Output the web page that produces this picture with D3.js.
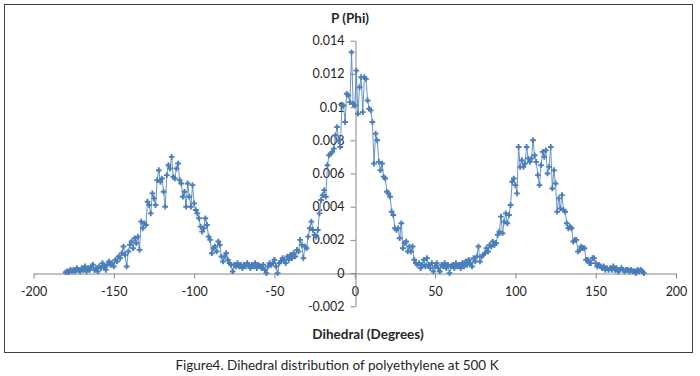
<!doctype html>
<html lang="en">
<head>
<meta charset="utf-8">
<title>Dihedral distribution</title>
<script src="https://d3js.org/d3.v7.min.js"></script>
<style>
  body { margin: 0; background: white; }
  svg text { font-family: Lato, "Liberation Sans", sans-serif; fill: #262626; }
</style>
</head>
<body>
<svg id="svg" width="700" height="376"></svg>
<script>
// dihedral angle, degrees (1 degree steps)
let angles = d3.range(-180, 181, 1);

// P(phi) for each angle, -180 .. 180
let probability = [
  0.00005, 0.0001, 0.00005, 0.0002, 0.0001, 0.0002, 0.0001, 0.0003, 0.0002, 0.0001,   // -180
  0.0003, 0.0002, 0.0004, 0.0001, 0.0003, 0.0002, 0.0004, 0.0005, 0.0002, 0.0003,    // -170
  0.0001, 0.0004, 0.0003, 0.0006, 0.0004, 0.0002, 0.0005, 0.0007, 0.0005, 0.0006,    // -160
  0.0004, 0.0008, 0.0007, 0.0010, 0.0009, 0.0012, 0.0016, 0.0011, 0.0004, 0.0013,    // -150
  0.0017, 0.0019, 0.0015, 0.0021, 0.0018, 0.0022, 0.0014, 0.0031, 0.0027, 0.0030,    // -140
  0.0029, 0.0043, 0.0041, 0.0036, 0.0048, 0.0045, 0.0041, 0.0056, 0.0062, 0.0055,    // -130
  0.0057, 0.0049, 0.0040, 0.0059, 0.0065, 0.0063, 0.0070, 0.0058, 0.0057, 0.0063,    // -120
  0.0066, 0.0056, 0.0054, 0.0046, 0.0049, 0.0040, 0.0054, 0.0046, 0.0040, 0.0053,    // -110
  0.0042, 0.0038, 0.0036, 0.0033, 0.0028, 0.0025, 0.0027, 0.0033, 0.0029, 0.0022,    // -100
  0.0020, 0.0012, 0.0015, 0.0016, 0.0013, 0.0019, 0.0017, 0.0010, 0.0007, 0.0010,    // -90
  0.0012, 0.0008, 0.0006, 0.0005, 0.0001, 0.0005, 0.0004, 0.0006, 0.0004, 0.0005,    // -80
  0.0003, 0.0005, 0.0004, 0.0006, 0.0005, 0.0003, 0.0005, 0.0004, 0.0006, 0.0003,    // -70
  0.0005, 0.0004, 0.0003, 0.0005, 0.0002, 0.0000, 0.0004, 0.0006, 0.0005, 0.0006,    // -60
  0.0008, 0.0004, 0.0000, 0.0006, 0.0007, 0.0009, 0.0008, 0.0006, 0.0010, 0.0008,    // -50
  0.0011, 0.0009, 0.0012, 0.0010, 0.0014, 0.0013, 0.0020, 0.0017, 0.0009, 0.0016,    // -40
  0.0015, 0.0022, 0.0027, 0.0031, 0.0026, 0.0023, 0.0022, 0.0026, 0.0036, 0.0044,    // -30
  0.0047, 0.0050, 0.0046, 0.0065, 0.0071, 0.0072, 0.0073, 0.0075, 0.0083, 0.0088,    // -20
  0.0080, 0.0076, 0.0101, 0.0101, 0.0091, 0.0108, 0.0107, 0.0103, 0.0133, 0.0102,    // -10
  0.0101, 0.0122, 0.0096, 0.0112, 0.0118, 0.0097, 0.0118, 0.0117, 0.0104, 0.0099,    // 0
  0.0098, 0.0091, 0.0066, 0.0084, 0.0080, 0.0067, 0.0062, 0.0066, 0.0058, 0.0057,    // 10
  0.0049, 0.0048, 0.0046, 0.0037, 0.0035, 0.0027, 0.0026, 0.0027, 0.0021, 0.0030,    // 20
  0.0015, 0.0018, 0.0019, 0.0013, 0.0016, 0.0013, 0.0016, 0.0008, 0.0006, 0.0005,    // 30
  0.0006, 0.0003, 0.0005, 0.0008, 0.0004, 0.0009, 0.0005, 0.0003, 0.0006, 0.0001,    // 40
  0.0004, 0.0006, 0.0003, 0.0001, 0.0005, 0.0004, 0.0006, 0.0003, 0.0005, 0.0000,    // 50
  0.0004, 0.0005, 0.0003, 0.0006, 0.0004, 0.0005, 0.0003, 0.0006, 0.0004, 0.0007,    // 60
  0.0005, 0.0008, 0.0006, 0.0004, 0.0009, 0.0007, 0.0010, 0.0016, 0.0007, 0.0010,    // 70
  0.0011, 0.0012, 0.0015, 0.0013, 0.0017, 0.0016, 0.0019, 0.0017, 0.0018, 0.0023,    // 80
  0.0025, 0.0034, 0.0024, 0.0031, 0.0036, 0.0030, 0.0035, 0.0041, 0.0055, 0.0057,    // 90
  0.0053, 0.0048, 0.0076, 0.0064, 0.0068, 0.0064, 0.0066, 0.0076, 0.0069, 0.0067,    // 100
  0.0069, 0.0080, 0.0071, 0.0067, 0.0059, 0.0053, 0.0065, 0.0073, 0.0070, 0.0074,    // 110
  0.0060, 0.0064, 0.0076, 0.0051, 0.0062, 0.0054, 0.0037, 0.0045, 0.0039, 0.0047,    // 120
  0.0038, 0.0037, 0.0030, 0.0027, 0.0028, 0.0027, 0.0019, 0.0020, 0.0020, 0.0013,    // 130
  0.0014, 0.0016, 0.0015, 0.0015, 0.0008, 0.0008, 0.0006, 0.0006, 0.0009, 0.0009,    // 140
  0.0006, 0.0004, 0.0005, 0.0004, 0.0003, 0.0004, 0.0002, 0.0003, 0.0002, 0.0003,    // 150
  0.0002, 0.0004, 0.0002, 0.0003, 0.0001, 0.0002, 0.0003, 0.0002, 0.0001, 0.0002,    // 160
  0.0002, 0.0001, 0.0002, 0.0001, 0.0001, 0.0000, 0.0002, 0.0001, 0.0002, 0.0001,    // 170
  0.0000                                                                               // 180
];

let xTicks = [-200, -150, -100, -50, 0, 50, 100, 150, 200];
let yTicks = [-0.002, 0, 0.002, 0.004, 0.006, 0.008, 0.01, 0.012, 0.014];
let yTickLabels = ["-0.002", "0", "0.002", "0.004", "0.006", "0.008", "0.01", "0.012", "0.014"];

let data = angles.map((a, i) => ({ angle: a, p: probability[i] }));

let svg = d3.select("#svg");
let axisColor = "#868686";
let blue = "#4A7EBB";

// chart frame
svg.append("rect")
  .attr("x", 4.5).attr("y", 4.5)
  .attr("width", 688).attr("height", 348)
  .attr("fill", "white")
  .attr("stroke", "#404040")
  .attr("stroke-width", 1);

let xScale = d3.scaleLinear().domain([-200, 200]).range([33.5, 676]);
let yScale = d3.scaleLinear().domain([-0.002, 0.014]).range([306.3, 40.7]);

// x axis sits at P = 0
let xAxis = svg.append("g")
  .attr("transform", `translate(0, ${Math.round(yScale(0)) + 0.5})`)
  .call(d3.axisBottom(xScale).tickValues(xTicks).tickSize(5).tickSizeOuter(0).tickPadding(9)
    .tickFormat(d => String(d)));

// y axis sits at angle = 0
let yAxis = svg.append("g")
  .attr("transform", `translate(${Math.round(xScale(0)) + 0.5}, 0)`)
  .call(d3.axisLeft(yScale).tickValues(yTicks).tickSize(5).tickSizeOuter(0).tickPadding(6)
    .tickFormat((d, i) => yTickLabels[i]));

[xAxis, yAxis].forEach(g => {
  g.selectAll("path, line").attr("stroke", axisColor);
  g.selectAll("text").attr("font-size", 12.5).attr("font-family", "Lato, sans-serif").attr("fill", "#262626");
});

// series line
let line = d3.line().x(d => xScale(d.angle)).y(d => yScale(d.p));
svg.append("path")
  .datum(data)
  .attr("d", line)
  .attr("fill", "none")
  .attr("stroke", "#4F81BD")
  .attr("stroke-opacity", 0.85)
  .attr("stroke-width", 1);

// markers
svg.append("g")
  .selectAll("path")
  .data(data)
  .join("path")
  .attr("transform", d => `translate(${xScale(d.angle)}, ${yScale(d.p)})`)
  .attr("d", d3.symbol().type(d3.symbolCross).size(18))
  .attr("fill", blue);

// titles
svg.append("text")
  .attr("x", 350).attr("y", 23)
  .attr("text-anchor", "middle")
  .attr("font-size", 13.5).attr("font-weight", "bold")
  .text("P (Phi)");

svg.append("text")
  .attr("x", 368).attr("y", 339)
  .attr("text-anchor", "middle")
  .attr("font-size", 13.5).attr("font-weight", "bold")
  .text("Dihedral (Degrees)");

svg.append("text")
  .attr("x", 337).attr("y", 370)
  .attr("text-anchor", "middle")
  .attr("font-size", 13.5)
  .text("Figure4. Dihedral distribution of polyethylene at 500 K");
</script>
</body>
</html>
